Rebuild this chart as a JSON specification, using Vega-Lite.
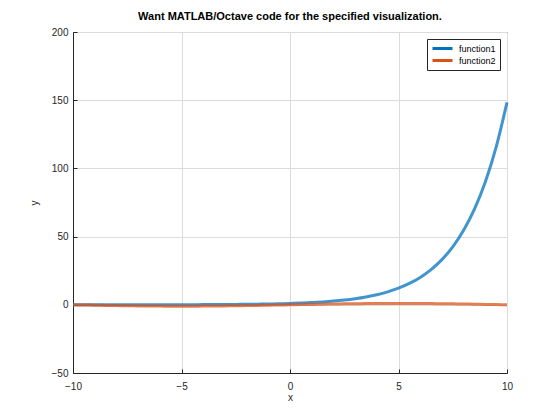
{
  "$schema": "https://vega.github.io/schema/vega-lite/v6.json",
  "autosize": "none",
  "width": 434,
  "height": 341,
  "padding": {"left": 73, "top": 32, "right": 53, "bottom": 47},
  "background": "white",
  "title": {"text": "Want MATLAB/Octave code for the specified visualization.", "font": "Liberation Sans", "fontSize": 11, "fontWeight": "bold", "color": "#000000", "offset": 5},
  "config": {
    "view": {"stroke": "#262626", "strokeWidth": 1},
    "font": "Liberation Sans"
  },
  "data": {"values": [
    {"x": -10, "y": 0.0067, "s": "function1"},
    {"x": -9.5, "y": 0.0087, "s": "function1"},
    {"x": -9, "y": 0.0111, "s": "function1"},
    {"x": -8.5, "y": 0.0143, "s": "function1"},
    {"x": -8, "y": 0.0183, "s": "function1"},
    {"x": -7.5, "y": 0.0235, "s": "function1"},
    {"x": -7, "y": 0.0302, "s": "function1"},
    {"x": -6.5, "y": 0.0388, "s": "function1"},
    {"x": -6, "y": 0.0498, "s": "function1"},
    {"x": -5.5, "y": 0.0639, "s": "function1"},
    {"x": -5, "y": 0.0821, "s": "function1"},
    {"x": -4.5, "y": 0.1054, "s": "function1"},
    {"x": -4, "y": 0.1353, "s": "function1"},
    {"x": -3.5, "y": 0.1738, "s": "function1"},
    {"x": -3, "y": 0.2231, "s": "function1"},
    {"x": -2.5, "y": 0.2865, "s": "function1"},
    {"x": -2, "y": 0.3679, "s": "function1"},
    {"x": -1.5, "y": 0.4724, "s": "function1"},
    {"x": -1, "y": 0.6065, "s": "function1"},
    {"x": -0.5, "y": 0.7788, "s": "function1"},
    {"x": 0, "y": 1.0, "s": "function1"},
    {"x": 0.5, "y": 1.284, "s": "function1"},
    {"x": 1, "y": 1.649, "s": "function1"},
    {"x": 1.5, "y": 2.117, "s": "function1"},
    {"x": 2, "y": 2.718, "s": "function1"},
    {"x": 2.5, "y": 3.490, "s": "function1"},
    {"x": 3, "y": 4.482, "s": "function1"},
    {"x": 3.5, "y": 5.755, "s": "function1"},
    {"x": 4, "y": 7.389, "s": "function1"},
    {"x": 4.5, "y": 9.488, "s": "function1"},
    {"x": 5, "y": 12.18, "s": "function1"},
    {"x": 5.5, "y": 15.64, "s": "function1"},
    {"x": 6, "y": 20.09, "s": "function1"},
    {"x": 6.5, "y": 25.79, "s": "function1"},
    {"x": 7, "y": 33.12, "s": "function1"},
    {"x": 7.5, "y": 42.52, "s": "function1"},
    {"x": 8, "y": 54.60, "s": "function1"},
    {"x": 8.5, "y": 70.11, "s": "function1"},
    {"x": 9, "y": 90.02, "s": "function1"},
    {"x": 9.5, "y": 115.58, "s": "function1"},
    {"x": 10, "y": 148.41, "s": "function1"},
    {"x": -10, "y": 0, "s": "function2"},
    {"x": -9.5, "y": -0.156, "s": "function2"},
    {"x": -9, "y": -0.309, "s": "function2"},
    {"x": -8.5, "y": -0.454, "s": "function2"},
    {"x": -8, "y": -0.588, "s": "function2"},
    {"x": -7.5, "y": -0.707, "s": "function2"},
    {"x": -7, "y": -0.809, "s": "function2"},
    {"x": -6.5, "y": -0.891, "s": "function2"},
    {"x": -6, "y": -0.951, "s": "function2"},
    {"x": -5.5, "y": -0.988, "s": "function2"},
    {"x": -5, "y": -1.0, "s": "function2"},
    {"x": -4.5, "y": -0.988, "s": "function2"},
    {"x": -4, "y": -0.951, "s": "function2"},
    {"x": -3.5, "y": -0.891, "s": "function2"},
    {"x": -3, "y": -0.809, "s": "function2"},
    {"x": -2.5, "y": -0.707, "s": "function2"},
    {"x": -2, "y": -0.588, "s": "function2"},
    {"x": -1.5, "y": -0.454, "s": "function2"},
    {"x": -1, "y": -0.309, "s": "function2"},
    {"x": -0.5, "y": -0.156, "s": "function2"},
    {"x": 0, "y": 0, "s": "function2"},
    {"x": 0.5, "y": 0.156, "s": "function2"},
    {"x": 1, "y": 0.309, "s": "function2"},
    {"x": 1.5, "y": 0.454, "s": "function2"},
    {"x": 2, "y": 0.588, "s": "function2"},
    {"x": 2.5, "y": 0.707, "s": "function2"},
    {"x": 3, "y": 0.809, "s": "function2"},
    {"x": 3.5, "y": 0.891, "s": "function2"},
    {"x": 4, "y": 0.951, "s": "function2"},
    {"x": 4.5, "y": 0.988, "s": "function2"},
    {"x": 5, "y": 1.0, "s": "function2"},
    {"x": 5.5, "y": 0.988, "s": "function2"},
    {"x": 6, "y": 0.951, "s": "function2"},
    {"x": 6.5, "y": 0.891, "s": "function2"},
    {"x": 7, "y": 0.809, "s": "function2"},
    {"x": 7.5, "y": 0.707, "s": "function2"},
    {"x": 8, "y": 0.588, "s": "function2"},
    {"x": 8.5, "y": 0.454, "s": "function2"},
    {"x": 9, "y": 0.309, "s": "function2"},
    {"x": 9.5, "y": 0.156, "s": "function2"},
    {"x": 10, "y": 0, "s": "function2"}
  ]},
  "mark": {"type": "line", "strokeWidth": 3, "opacity": 0.75, "interpolate": "monotone"},
  "encoding": {
    "x": {"field": "x", "type": "quantitative",
      "scale": {"domain": [-10, 10], "nice": false, "zero": false},
      "axis": {"values": [-10, -5, 0, 5, 10], "title": "x", "titleFont": "Liberation Sans", "titleFontSize": 10, "titleFontWeight": "normal", "titleColor": "#262626", "titlePadding": 1,
        "labelFont": "Liberation Sans", "labelFontSize": 10, "labelColor": "#262626", "labelPadding": 12,
        "domainColor": "#262626", "tickColor": "#262626", "tickSize": -4, "gridColor": "#dcdcdc", "grid": true, "labelFlush": false}},
    "y": {"field": "y", "type": "quantitative",
      "scale": {"domain": [-50, 200], "nice": false, "zero": false},
      "axis": {"values": [-50, 0, 50, 100, 150, 200], "title": "y", "titleFont": "Liberation Sans", "titleFontSize": 10, "titleFontWeight": "normal", "titleColor": "#262626", "titlePadding": 12,
        "labelFont": "Liberation Sans", "labelFontSize": 10, "labelColor": "#262626", "labelPadding": 9,
        "domainColor": "#262626", "tickColor": "#262626", "tickSize": -4, "gridColor": "#dcdcdc", "grid": true, "labelFlush": false}},
    "color": {"field": "s", "type": "nominal",
      "scale": {"domain": ["function1", "function2"], "range": ["#0072BD", "#D95319"]},
      "legend": {"title": null, "orient": "none", "legendX": 354, "legendY": 7,
        "symbolType": "stroke", "symbolStrokeWidth": 3, "symbolSize": 400, "symbolOpacity": 1, "symbolOffset": 0,
        "labelFont": "Liberation Sans", "labelFontSize": 9, "labelColor": "#000000", "labelOffset": 5,
        "clipHeight": 11,
        "strokeColor": "#262626", "fillColor": "white", "padding": 4, "rowPadding": 1}}
  }
}
